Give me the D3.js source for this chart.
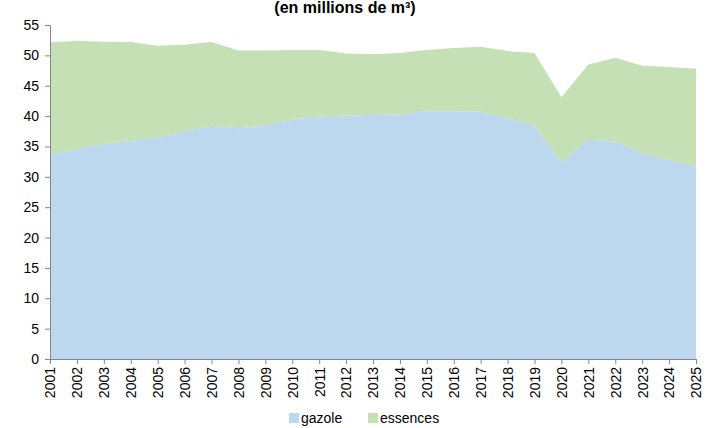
<!DOCTYPE html>
<html lang="fr">
<meta charset="utf-8">
<title>Gazole et essences</title>
<script src="https://d3js.org/d3.v7.min.js"></script>
<style>
  body { margin: 0; background: #fff; }
  text { font-family: "Liberation Sans", Arial, sans-serif; }
</style>
<svg width="717" height="428"></svg>
<script>
// donnees (en millions de m3)
var years = ["2001","2002","2003","2004","2005","2006","2007","2008","2009","2010","2011","2012",
             "2013","2014","2015","2016","2017","2018","2019","2020","2021","2022","2023","2024","2025"];
var gazole = [33.6, 34.6, 35.4, 35.9, 36.5, 37.5, 38.4, 38.0, 38.5, 39.4, 39.95, 40.1,
              40.2, 40.3, 40.8, 40.8, 40.7, 39.6, 38.5, 32.4, 36.1, 35.8, 33.9, 32.8, 31.7];
var essences = [18.5, 17.8, 16.85, 16.3, 15.1, 14.25, 13.8, 12.8, 12.3, 11.5, 10.95, 10.2,
                10.0, 10.1, 10.1, 10.4, 10.7, 11.1, 11.9, 10.7, 12.4, 13.8, 14.4, 15.3, 16.1];
var yTicks = [0, 5, 10, 15, 20, 25, 30, 35, 40, 45, 50, 55];
var keys = ["gazole", "essences"];
var colors = {gazole: "#BDD7EE", essences: "#C5E0B4"};

var svg = d3.select("svg");
var margin = {top: 25, right: 21, bottom: 69, left: 50};
var width = +svg.attr("width") - margin.left - margin.right;
var height = +svg.attr("height") - margin.top - margin.bottom;
var g = svg.append("g").attr("transform", "translate(" + margin.left + "," + margin.top + ")");

var rows = years.map(function(y, i) { return {year: y, gazole: gazole[i], essences: essences[i]}; });
var series = d3.stack().keys(keys)(rows);

var x = d3.scalePoint().domain(years).range([0, width]);
var y = d3.scaleLinear().domain([0, 55]).range([height, 0]);

var area = d3.area()
    .x(function(d) { return x(d.data.year); })
    .y0(function(d) { return y(d[0]); })
    .y1(function(d) { return y(d[1]); });

g.selectAll("path.area")
  .data(series)
  .enter().append("path")
    .attr("class", "area")
    .attr("fill", function(d) { return colors[d.key]; })
    .attr("d", area);

// axe vertical
var yAxis = g.append("g")
    .call(d3.axisLeft(y).tickValues(yTicks).tickSize(5).tickPadding(6));
yAxis.select(".domain").attr("stroke", "#868686");
yAxis.selectAll(".tick line").attr("stroke", "#868686");
yAxis.selectAll(".tick text").attr("fill", "#000").style("font-size", "14px");

// axe horizontal
var xAxis = g.append("g")
    .attr("transform", "translate(0," + height + ")")
    .call(d3.axisBottom(x).tickSize(5).tickSizeOuter(0));
xAxis.select(".domain").attr("stroke", "#868686");
xAxis.selectAll(".tick line").attr("stroke", "#868686");
xAxis.selectAll(".tick text")
    .attr("fill", "#000")
    .style("font-size", "14px")
    .attr("transform", "rotate(-90)")
    .attr("text-anchor", "end")
    .attr("x", -8)
    .attr("y", 0)
    .attr("dy", "0.35em");

// titre
svg.append("text")
    .attr("x", 345)
    .attr("y", 13)
    .attr("text-anchor", "middle")
    .style("font-size", "16px")
    .style("font-weight", "bold")
    .text("(en millions de m³)");

// legende
var legend = svg.append("g").selectAll("g")
  .data(keys)
  .enter().append("g")
    .attr("transform", function(d, i) { return "translate(" + (289 + i * 79) + ",413)"; });

legend.append("rect")
    .attr("width", 10)
    .attr("height", 10)
    .attr("fill", function(d) { return colors[d]; });

legend.append("text")
    .attr("x", 12)
    .attr("y", 5)
    .attr("dy", "0.35em")
    .style("font-size", "14px")
    .attr("fill", "#000")
    .text(function(d) { return d; });
</script>
</html>
